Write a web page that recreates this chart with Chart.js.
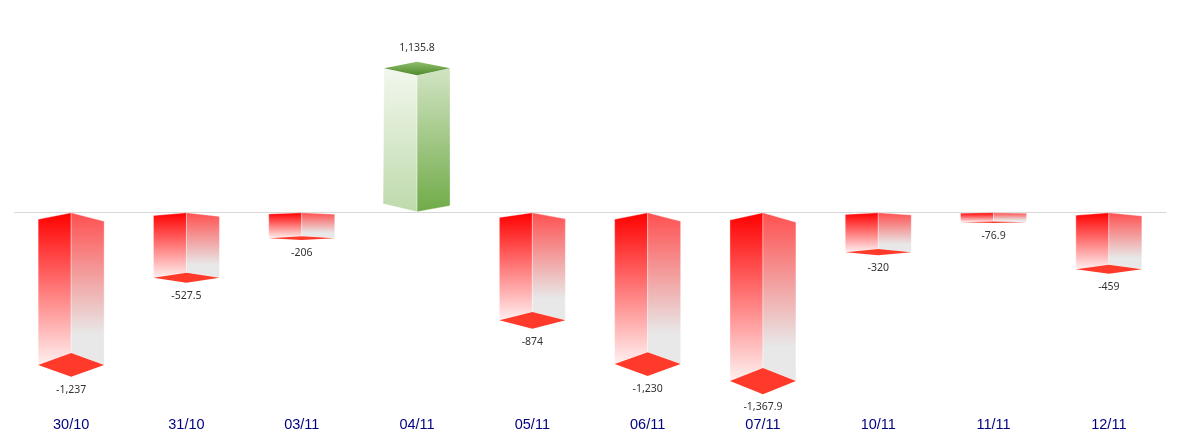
<!DOCTYPE html>

<html>
<head>
    <meta charset="utf-8">
    <title>Daily Change 3D Bars</title>
    <script src="https://cdn.jsdelivr.net/npm/chart.js"></script>
    <style>
        html, body { margin: 0; padding: 0; background: #fff; }
        canvas { display: block; }
    </style>
</head>
<body>
<canvas id="barChart" width="1186" height="440"></canvas>

<script>
    const dates = ['30/10', '31/10', '03/11', '04/11', '05/11', '06/11', '07/11', '10/11', '11/11', '12/11'];
    const changes = [-1237, -527.5, -206, 1135.8, -874, -1230, -1367.9, -320, -76.9, -459];
    const valueLabels = ['-1,237', '-527.5', '-206', '1,135.8', '-874', '-1,230', '-1,367.9', '-320', '-76.9', '-459'];

    function gradient(ctx, y1, y2, from, to, end = 1) {
        const g = ctx.createLinearGradient(0, y1, 0, y2);
        g.addColorStop(0, from);
        g.addColorStop(end, to);
        g.addColorStop(1, to);
        return g;
    }

    function poly(ctx, points, fill, edge) {
        ctx.beginPath();
        points.forEach((p, i) => i ? ctx.lineTo(p[0], p[1]) : ctx.moveTo(p[0], p[1]));
        ctx.closePath();
        ctx.fillStyle = fill;
        ctx.fill();
        if (edge) {
            ctx.strokeStyle = edge;
            ctx.lineWidth = 1;
            ctx.stroke();
        }
    }

    function label(ctx, text, x, y) {
        ctx.font = '10.5px "Noto Sans"';
        ctx.fillStyle = '#333333';
        ctx.textAlign = 'center';
        ctx.textBaseline = 'middle';
        ctx.fillText(text, x, y);
    }

    // draws each bar as a prism, from the positions the bar elements got from the scales
    const prismPlugin = {
        id: 'prism',
        afterDatasetsDraw(chart) {
            const ctx = chart.ctx;
            const zero = chart.scales.y.getPixelForValue(0);
            const half = 33;
            const edge = 'rgba(255,255,255,0.35)';
            chart.getDatasetMeta(0).data.forEach((bar, i) => {
                const cx = bar.x;
                ctx.save();
                if (changes[i] < 0) {
                    const h = bar.y - zero;
                    const d = h * 0.078;
                    poly(ctx, [[cx, zero], [cx - half, zero + h * 0.043], [cx - half, bar.y], [cx, bar.y - d]],
                        gradient(ctx, zero, bar.y, '#ff0000', '#fff0f0'), edge);
                    poly(ctx, [[cx, zero], [cx + half, zero + h * 0.056], [cx + half, bar.y], [cx, bar.y - d]],
                        gradient(ctx, zero, bar.y, '#ff5050', '#e8e8e8', 0.8), edge);
                    poly(ctx, [[cx - half, bar.y], [cx, bar.y - d], [cx + half, bar.y], [cx, bar.y + d]], '#ff3a2a');
                    label(ctx, valueLabels[i], cx, bar.y + d + 13);
                } else {
                    const top = zero - (zero - bar.y) * 1.035;
                    const base = zero - 1;
                    poly(ctx, [[cx, top + 7], [cx - half, top], [cx - half - 1, base - 8], [cx, base]],
                        gradient(ctx, top, base, '#f2f7ee', '#bedaab'), edge);
                    poly(ctx, [[cx, top + 7], [cx + half, top], [cx + half, base - 6], [cx, base]],
                        gradient(ctx, top, base, '#d2e4c4', '#70ab48'), edge);
                    poly(ctx, [[cx - half, top], [cx, top - 6.5], [cx + half, top], [cx, top + 7]],
                        gradient(ctx, top - 6.5, top + 7, '#8fbe6c', '#4e8a2d'));
                    label(ctx, valueLabels[i], cx, top - 20);
                }
                ctx.restore();
            });
        }
    };

    new Chart(document.getElementById('barChart').getContext('2d'), {
        type: 'bar',
        data: {
            labels: dates,
            datasets: [{
                data: changes,
                backgroundColor: 'transparent'
            }]
        },
        plugins: [prismPlugin],
        options: {
            responsive: false,
            animation: false,
            layout: { padding: { left: 13.5, right: 19.5, top: 0, bottom: 0 } },
            plugins: { legend: { display: false }, tooltip: { enabled: false } },
            scales: {
                x: {
                    grid: { display: false },
                    border: { display: false },
                    ticks: {
                        color: '#000080',
                        font: { family: '"Liberation Sans"', size: 14.5 },
                        maxRotation: 0,
                        autoSkip: false,
                        padding: 6
                    }
                },
                y: {
                    min: -1543,
                    max: 1730,
                    border: { display: false },
                    afterBuildTicks: scale => { scale.ticks = [{ value: 0 }]; },
                    grid: { drawTicks: false, color: '#d8d8d8' },
                    ticks: { display: false }
                }
            }
        }
    });
</script>

</body>
</html>
